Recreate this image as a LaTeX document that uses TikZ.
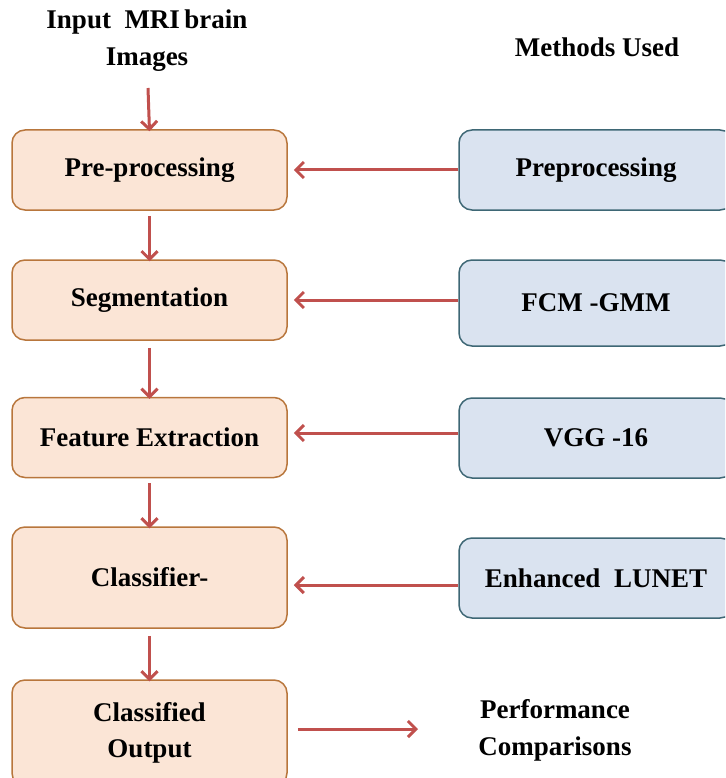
\documentclass[tikz,border=0pt]{standalone}
\usepackage{fontspec}
\setmainfont{Liberation Serif}[BoldFont={Liberation Serif Bold}]
\usetikzlibrary{arrows.meta}
\definecolor{ofill}{HTML}{FBE5D6}
\definecolor{odraw}{HTML}{B8763C}
\definecolor{bfill}{HTML}{DAE3F0}
\definecolor{bdraw}{HTML}{3E6775}
\definecolor{arr}{HTML}{C0504D}
\tikzset{
  obox/.style={draw=odraw, fill=ofill, line width=1.5pt, rounded corners=13pt,
    minimum width=275pt, minimum height=80pt, align=center,
    font=\fontsize{27}{36}\selectfont\bfseries},
  bbox/.style={draw=bdraw, fill=bfill, line width=1.5pt, rounded corners=13pt,
    minimum width=274pt, minimum height=80pt, align=center,
    font=\fontsize{27}{36}\selectfont\bfseries},
  lbl/.style={align=center, font=\fontsize{27}{37}\selectfont\bfseries},
  flow/.style={draw=arr, line width=3pt, -{Straight Barb[length=8pt,width=16pt]}}
}
\begin{document}
\begin{tikzpicture}[x=1pt,y=-1pt]
\useasboundingbox (0,0) rectangle (725,778);
\clip (0,0) rectangle (725,778);
\node[lbl] (in1) at (147,22) {Input\ \ MRI\,brain};
\node[lbl] (in2) at (147,60) {Images};
\node[lbl] (mu) at (597,47) {Methods Used};

\node[obox] (pre) at (149.5,170) {Pre-processing};
\node[obox] (seg) at (149.5,300) {Segmentation};
\node[obox] (fe)  at (149.5,437.5) {Feature Extraction};
\node[obox, minimum height=101pt] (cls) at (149.5,577.5) {Classifier-};
\node[obox, minimum height=106pt] (out) at (149.5,733) {Classified\\Output};

\node[bbox] (mpre) at (596,170) {Preprocessing};
\node[bbox, minimum height=86pt] (mseg) at (596,303) {FCM -GMM};
\node[bbox] (mfe) at (596,438) {VGG -16};
\node[bbox] (mcls) at (596,578) {Enhanced\ \ LUNET};

\node[lbl] (perf) at (555,730) {Performance\\Comparisons};

\coordinate (a0) at (148,88);
\draw[flow] (a0) -- ([yshift=-2pt]pre.north);
\draw[flow] ([yshift=-5pt]pre.south) -- ([yshift=-2pt]seg.north);
\draw[flow] ([yshift=-7pt]seg.south) -- ([yshift=-2pt]fe.north);
\draw[flow] ([yshift=-5pt]fe.south) -- ([yshift=-2pt]cls.north);
\draw[flow] ([yshift=-7pt]cls.south) -- ([yshift=-2pt]out.north);

\draw[flow] (mpre.west) -- ([xshift=6pt]pre.east);
\draw[flow] (mseg.west|-seg.east) -- ([xshift=6pt]seg.east);
\draw[flow] (mfe.west|-0,433) -- ([xshift=6pt]fe.east|-0,433);
\draw[flow] (mcls.west|-0,585) -- ([xshift=6pt]cls.east|-0,585);
\coordinate (pe) at (418,729);
\draw[flow] ([xshift=10pt]out.east|-0,729) -- (pe);
\end{tikzpicture}
\end{document}
